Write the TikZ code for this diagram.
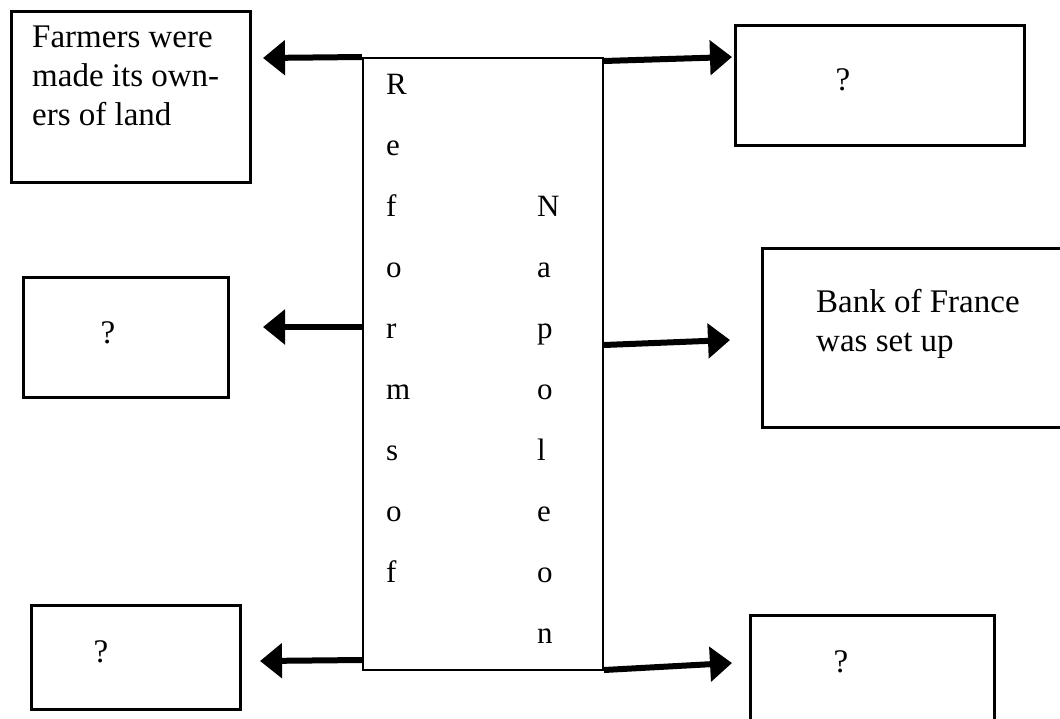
\documentclass[tikz,border=0pt]{standalone}
\usepackage{fontspec}
\setmainfont{Liberation Serif}
\usetikzlibrary{arrows.meta}
\begin{document}
\begin{tikzpicture}[x=1pt,y=-1pt,
        bx/.style={draw,line width=2.6pt,rectangle,anchor=north west,inner sep=0pt},
        tx/.style={font=\fontsize{33}{39}\selectfont,inner sep=0pt,align=left},
        lt/.style={font=\fontsize{31}{38}\selectfont,inner sep=0pt,anchor=base west},
        arr/.style={line width=6pt,-{Triangle[length=22pt,width=34pt]}}]
        \clip (0,0) rectangle (1060,718);
        \node[draw,line width=2pt,minimum width=240pt,minimum height=612pt] (reforms) at (483,364) {};
        \foreach[count=\i] \c in {R,e,f,o,r,m,s,o,f}
            \node[lt] (ref-\i) at (386,94+61*\i-61) {\c};
        \foreach[count=\i] \c in {N,a,p,o,l,e,o,n}
            \node[lt] (nap-\i) at (537,216+61*\i-61) {\c};
        % boxes round the middle
        \node[bx,minimum width=239pt,minimum height=171pt] (farmers) at (10,10) {};
        \node[bx,minimum width=205pt,minimum height=120pt] (lmid) at (22,276) {};
        \node[bx,minimum width=209pt,minimum height=104pt] (lbot) at (30,604) {};
        \node[bx,minimum width=289pt,minimum height=120pt] (rtop) at (734,24) {};
        \node[bx,minimum width=320pt,minimum height=179pt] (bank) at (761,247) {};
        \node[bx,minimum width=244pt,minimum height=130pt] (rbot) at (749,614) {};
        \node[tx,anchor=north west] (farmers-t) at ([xshift=22pt,yshift=-16pt]farmers.north west) {Farmers were\\made its own-\\ers of land};
        \node[tx,anchor=north west] (bank-t) at ([xshift=55pt,yshift=-42pt]bank.north west) {Bank of France\\was set up};
        \node[tx,anchor=base] (lmid-t) at (108,343) {?};
        \node[tx,anchor=base] (lbot-t) at (101,662) {?};
        \node[tx,anchor=base] (rtop-t) at (843,90) {?};
        \node[tx,anchor=base] (rbot-t) at (841,672) {?};
        % arrow tips
        \coordinate (t1) at (263,58);
        \coordinate (t2) at (263,327);
        \coordinate (t3) at (260,661);
        \coordinate (t4) at (732,57);
        \coordinate (t5) at (730,340);
        \coordinate (t6) at (732,663);
        \draw[arr] (reforms.north west) -- (t1);
        \draw[arr] ([yshift=37pt]reforms.west) -- (t2);
        \draw[arr] ([yshift=11pt]reforms.south west) -- (t3);
        \draw[arr] ([yshift=-4pt]reforms.north east) -- (t4);
        \draw[arr] ([yshift=19pt]reforms.east) -- (t5);
        \draw[arr] ([yshift=1pt]reforms.south east) -- (t6);
\end{tikzpicture}
\end{document}
